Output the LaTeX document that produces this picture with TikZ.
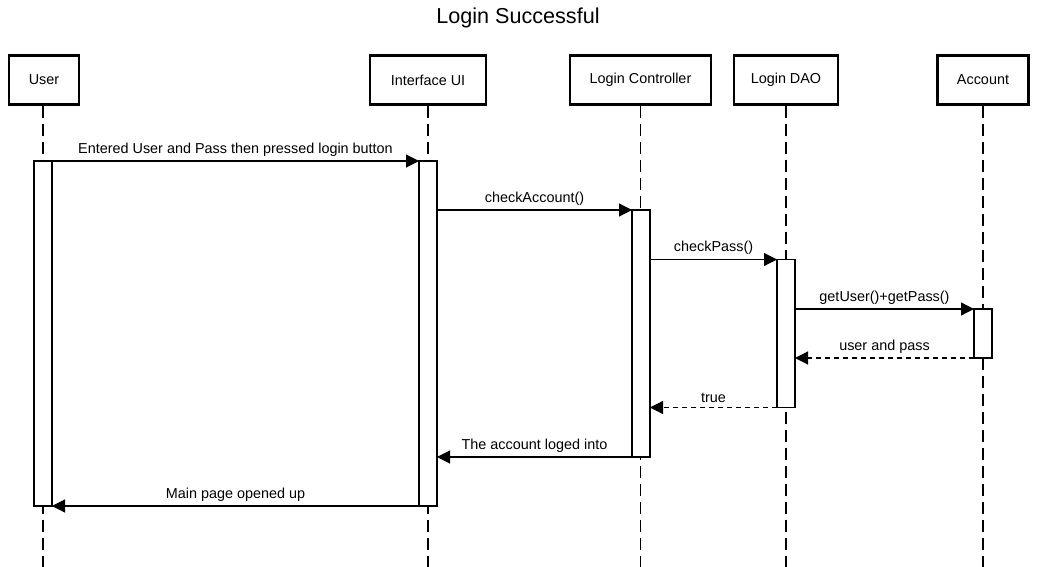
\documentclass[tikz,border=0pt]{standalone}
\usepackage{fontspec}
\setmainfont{Liberation Sans}
\usetikzlibrary{arrows.meta}

\begin{document}
\begin{tikzpicture}[x=1pt, y=-1pt, line width=1.2pt,
    head/.style={rectangle, draw, line width=2.8pt, fill=white, minimum height=49pt, font=\fontsize{14.4}{17}\selectfont},
    bar/.style={rectangle, draw, fill=white, minimum width=18pt, outer sep=0pt, inner sep=0pt},
    life/.style={dash pattern=on 12pt off 6pt},
    msg/.style={-{Triangle[length=13pt,width=13pt]}},
    reply/.style={msg, dash pattern=on 5pt off 4pt},
    lbl/.style={above=1pt, font=\fontsize{14.4}{17}\selectfont}]
    \useasboundingbox (0,0) rectangle (1037,567);

    \node[font=\fontsize{21.6}{26}\selectfont] (T) at (518,18) {Login Successful};

    \node[head, minimum width=70pt] (U) at (44,80) {User};
    \node[head, minimum width=116pt] (I) at (428,80) {Interface UI};
    \node[head, minimum width=141pt] (C) at (640.5,80) {Login Controller};
    \node[head, minimum width=104pt] (D) at (786,80) {Login DAO};
    \node[head, minimum width=91pt] (A) at (983,80) {Account};

    \coordinate (bot) at (0,567);
    \draw[life] (U.south -| 43,0) -- (43,567);
    \draw[life] (I.south) -- (I.south |- bot);
    \draw[life] (C.south) -- (C.south |- bot);
    \draw[life] (D.south) -- (D.south |- bot);
    \draw[life] (A.south) -- (A.south |- bot);

    \node[bar, minimum height=345pt] (UB) at (43,333.5) {};
    \node[bar, minimum height=345pt] (IB) at (428,333.5) {};
    \node[bar, minimum height=247pt] (CB) at (641,333.5) {};
    \node[bar, minimum height=148pt] (DB) at (786,333.5) {};
    \node[bar, minimum height=49pt] (AB) at (983,333.5) {};

    \draw[msg] (UB.north east) -- node[lbl] {Entered User and Pass then pressed login button} (IB.north west);
    \draw[msg] (IB.east |- CB.north) -- node[lbl] {checkAccount()} (CB.north west);
    \draw[msg] (CB.east |- DB.north) -- node[lbl] {checkPass()} (DB.north west);
    \draw[msg] (DB.east |- AB.north) -- node[lbl] {getUser()+getPass()} (AB.north west);
    \draw[reply] (AB.south west) -- node[lbl] {user and pass} (DB.east |- AB.south);
    \draw[reply] (DB.south west) -- node[lbl] {true} (CB.east |- DB.south);
    \draw[msg] (CB.south west) -- node[lbl] {The account loged into} (IB.east |- CB.south);
    \draw[msg] (IB.south west) -- node[lbl] {Main page opened up} (UB.south east);
\end{tikzpicture}
\end{document}
